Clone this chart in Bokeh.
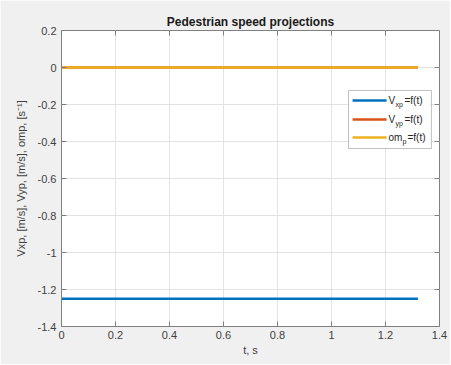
from bokeh.plotting import figure
from bokeh.models import (FixedTicker, CustomJSTickFormatter, Range1d, Label, BoxAnnotation)
from bokeh.embed import file_html
from bokeh.resources import INLINE

# ---- data ----
t = [0.0, 1.32]
vxp = [-1.25, -1.25]
vyp = [0.0, 0.0]
omp = [0.0, 0.0]
x_ticks = [0, 0.2, 0.4, 0.6, 0.8, 1.0, 1.2, 1.4]
y_ticks = [-1.4, -1.2, -1.0, -0.8, -0.6, -0.4, -0.2, 0.0, 0.2]
series_names = [("V", "xp", "=f(t)"), ("V", "yp", "=f(t)"), ("om", "p", "=f(t)")]
colors = ["#0072BD", "#D95319", "#EDB120"]

FONT = "Liberation Sans"
GRAY_BG = "#f0f0f0"
AX = "#808080"
TXT = "#404040"

X0, X1, Y0, Y1 = 0, 1.4, -1.4, 0.2
p = figure(width=450, height=364, output_backend="svg", toolbar_location=None,
           x_range=Range1d(X0, X1), y_range=Range1d(Y0, Y1),
           min_border_left=61, min_border_right=11, min_border_top=30,
           min_border_bottom=38)
p.background_fill_color = "white"
p.border_fill_color = GRAY_BG
p.outline_line_color = AX
p.outline_line_width = 1

p.title.text = "Pedestrian speed projections"
p.title.text_font = FONT
p.title.text_font_size = "12px"
p.title.text_font_style = "bold"
p.title.text_color = "#1a1a1a"
p.title.align = "center"
p.title.offset = 0
p.title.standoff = 4

fmt = CustomJSTickFormatter(code="return String(Number(tick.toFixed(1)));")

for ax, ticks in ((p.xaxis[0], x_ticks), (p.yaxis[0], y_ticks)):
    ax.ticker = FixedTicker(ticks=ticks)
    ax.formatter = fmt
    ax.major_tick_in = 5
    ax.major_tick_out = 0
    ax.minor_tick_in = 0
    ax.minor_tick_out = 0
    ax.axis_line_color = AX
    ax.major_tick_line_color = AX
    ax.major_label_text_font = FONT
    ax.major_label_text_font_size = "11px"
    ax.major_label_text_color = TXT
    ax.axis_label_text_font = FONT
    ax.axis_label_text_font_size = "11px"
    ax.axis_label_text_color = TXT
    ax.axis_label_text_font_style = "normal"

p.xaxis[0].major_label_standoff = 4
p.yaxis[0].major_label_standoff = 5
p.xaxis[0].axis_label = "t, s"
p.xaxis[0].axis_label_standoff = 2
p.yaxis[0].axis_label = "Vxp, [m/s], Vyp, [m/s], omp, [s\u207b\u00b9]"
p.yaxis[0].axis_label_standoff = 8

# box ticks on top and right edges (inward, same tick positions)
tick_dx = 5 / 378 * (X1 - X0)
tick_dy = 5 / 296 * (Y1 - Y0)
p.segment(x0=x_ticks[1:-1], y0=[Y1] * (len(x_ticks) - 2),
          x1=x_ticks[1:-1], y1=[Y1 - tick_dy] * (len(x_ticks) - 2),
          line_color=AX, line_width=1)
p.segment(x0=[X1] * (len(y_ticks) - 2), y0=y_ticks[1:-1],
          x1=[X1 - tick_dx] * (len(y_ticks) - 2), y1=y_ticks[1:-1],
          line_color=AX, line_width=1)

p.xgrid.ticker = FixedTicker(ticks=x_ticks)
p.ygrid.ticker = FixedTicker(ticks=y_ticks)
p.grid.grid_line_color = "#e3e3e3"
p.grid.grid_line_width = 1

p.line(t, vxp, line_color=colors[0], line_width=2.5)
p.line(t, vyp, line_color=colors[1], line_width=2.5)
p.line(t, omp, line_color=colors[2], line_width=2.5)

# ---- manual legend (with subscripts) ----
p.add_layout(BoxAnnotation(left=1.063, right=1.370, top=-0.124, bottom=-0.438,
                           fill_color="white", fill_alpha=1.0,
                           line_color="#303030", line_width=1, level="annotation"))
leg_y = [-0.178, -0.281, -0.378]
for (main, sub, rest), c, yy in zip(series_names, colors, leg_y):
    p.line([1.078, 1.204], [yy, yy], line_color=c, line_width=2.5, level="overlay")
    base = dict(x=1.211, y=yy, text_font=FONT, text_color="#262626",
                text_baseline="middle", level="overlay")
    mw = 7 if main == "V" else 14
    p.add_layout(Label(text=main, text_font_size="10px", **base))
    sw = 4 * len(sub) + 1
    p.add_layout(Label(text=sub, text_font_size="7px", x_offset=mw, y_offset=-4, **base))
    p.add_layout(Label(text=rest, text_font_size="10px", x_offset=mw + sw, **base))

open("out.html", "w").write(file_html(p, INLINE))
